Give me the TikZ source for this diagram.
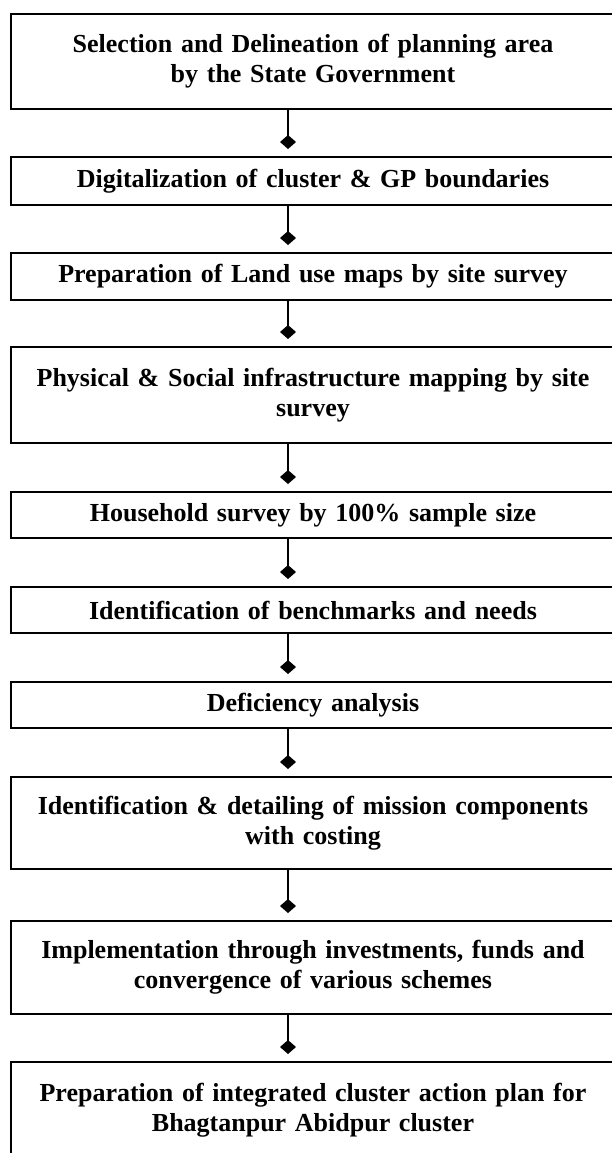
\documentclass[tikz,border=0pt]{standalone}
\usepackage{fontspec}
\setmainfont{Liberation Serif}
\usetikzlibrary{arrows.meta}
\begin{document}
\begin{tikzpicture}[x=1pt,y=1pt,
  stepbox/.style={draw=black,line width=2pt,minimum width=604pt,text width=590pt,align=center,
    inner sep=0pt,font=\fontsize{26}{30}\selectfont\bfseries},
  flow/.style={draw=black,line width=1.5pt,-{Diamond[length=14pt,width=16pt]},shorten >=7pt}]
\useasboundingbox (0,0) rectangle (611,-1153);
\node[stepbox,minimum height=95pt] (b1) at (313,-61.5) {Selection and Delineation of planning area\\by the State Government};
\node[stepbox,minimum height=48pt] (b2) at (313,-181) {Digitalization of cluster \& GP boundaries};
\node[stepbox,minimum height=47pt] (b3) at (313,-276.5) {Preparation of Land use maps by site survey};
\node[stepbox,minimum height=96pt] (b4) at (313,-395) {Physical \& Social infrastructure mapping by site\\survey};
\node[stepbox,minimum height=46pt] (b5) at (313,-515) {Household survey by 100\% sample size};
\node[stepbox,minimum height=46pt] (b6) at (313,-610) {Identification of benchmarks and needs};
\node[stepbox,minimum height=46pt] (b7) at (313,-705) {Deficiency analysis};
\node[stepbox,minimum height=92pt] (b8) at (313,-823) {Identification \& detailing of mission components\\with costing};
\node[stepbox,minimum height=93pt] (b9) at (313,-967.5) {Implementation through investments, funds and\\convergence of various schemes};
\node[stepbox,minimum height=96pt] (b10) at (313,-1110) {Preparation of integrated cluster action plan for\\Bhagtanpur Abidpur cluster};
\coordinate (ax) at (288,0);
\foreach \a/\b in {b1/b2,b2/b3,b3/b4,b4/b5,b5/b6,b6/b7,b7/b8,b8/b9,b9/b10}
  \draw[flow] (\a.south -| ax) -- (\b.north -| ax);
\end{tikzpicture}
\end{document}
